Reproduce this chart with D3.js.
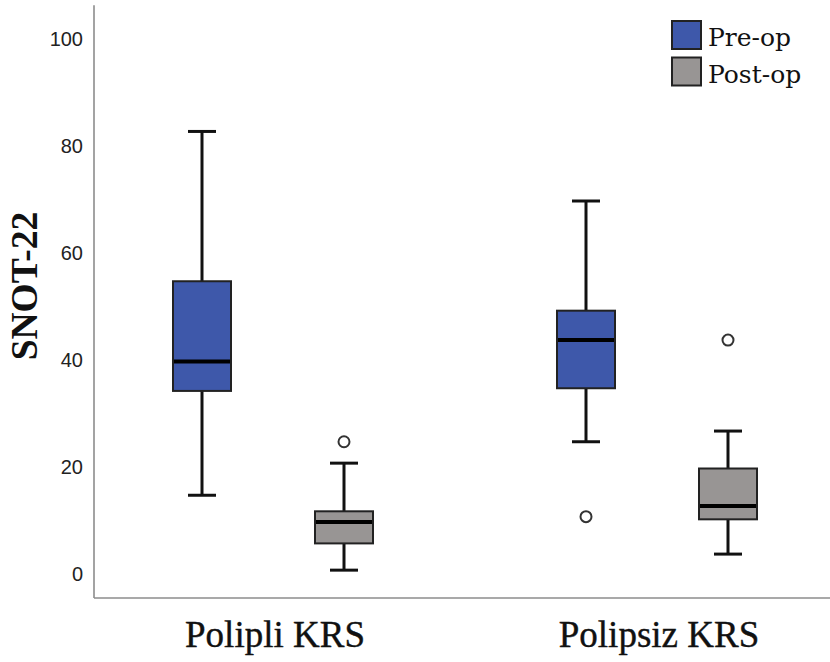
<!DOCTYPE html>
<html>
<head>
<meta charset="utf-8">
<script src="https://cdn.jsdelivr.net/npm/d3@7"></script>
<style>
  html, body { margin: 0; padding: 0; background: #fff; }
  svg { display: block; }
</style>
</head>
<body>
<svg id="chart" width="830" height="662"></svg>
<script>
// SNOT-22 scores before and after surgery, by KRS group
const categories = ["Polipli KRS", "Polipsiz KRS"];
const series = ["Pre-op", "Post-op"];

const preMin    = [15, 25];
const preQ1     = [34.5, 35];
const preMedian = [40, 44];
const preQ3     = [55, 49.5];
const preMax    = [83, 70];
const preOutliers = [[], [11]];

const postMin    = [1, 4];
const postQ1     = [6, 10.5];
const postMedian = [10, 13];
const postQ3     = [12, 20];
const postMax    = [21, 27];
const postOutliers = [[25], [44]];

const yTicks = [0, 20, 40, 60, 80, 100];
const yTitle = "SNOT-22";

const colors = { "Pre-op": "#3e58aa", "Post-op": "#989594" };

// assemble box records from the arrays above
const boxes = [];
categories.forEach((c, i) => {
  boxes.push({ cat: c, ser: "Pre-op", min: preMin[i], q1: preQ1[i], med: preMedian[i], q3: preQ3[i], max: preMax[i], out: preOutliers[i] });
  boxes.push({ cat: c, ser: "Post-op", min: postMin[i], q1: postQ1[i], med: postMedian[i], q3: postQ3[i], max: postMax[i], out: postOutliers[i] });
});

const svg = d3.select("#chart");

const y = d3.scaleLinear().domain([0, 100]).range([575.5, 40.5]);
const x0 = d3.scaleBand().domain(categories).range([81, 849]);
const x1 = d3.scalePoint().domain(series).range([-71, 71]);
const boxW = 58, capW = 28;
const cx = d => x0(d.cat) + x0.bandwidth() / 2 + x1(d.ser);

const axisLeft = 94, axisBottom = y(-4.2), axisTop = y(106.6);

// frame
svg.append("line").attr("x1", axisLeft).attr("x2", axisLeft)
  .attr("y1", axisTop).attr("y2", axisBottom)
  .attr("stroke", "#8c8c8c").attr("stroke-width", 1.6);
svg.append("line").attr("x1", axisLeft).attr("x2", 830)
  .attr("y1", axisBottom).attr("y2", axisBottom)
  .attr("stroke", "#8c8c8c").attr("stroke-width", 1.6);

// y tick labels
svg.append("g").selectAll("text").data(yTicks).join("text")
  .attr("x", 83).attr("y", d => y(d) - 2).attr("dy", "0.35em")
  .attr("text-anchor", "end")
  .attr("font-family", "'Liberation Sans', Arial, sans-serif")
  .attr("font-size", 20).attr("fill", "#222")
  .text(d => d);

// y title
svg.append("text")
  .attr("transform", "translate(37,286) rotate(-90)")
  .attr("text-anchor", "middle")
  .attr("font-family", "'Liberation Serif', 'Times New Roman', serif")
  .attr("font-weight", "bold").attr("font-size", 37.5).attr("fill", "#111")
  .text(yTitle);

// category labels
svg.append("g").selectAll("text").data(categories).join("text")
  .attr("x", d => x0(d) + x0.bandwidth() / 2 + 2)
  .attr("y", 647)
  .attr("text-anchor", "middle")
  .attr("font-family", "'Liberation Serif', 'Times New Roman', serif")
  .attr("font-size", 37).attr("fill", "#111")
  .attr("stroke", "#111").attr("stroke-width", 0.4)
  .text(d => d);

const g = svg.append("g").selectAll("g").data(boxes).join("g");

// whiskers
g.append("line").attr("x1", cx).attr("x2", cx)
  .attr("y1", d => y(d.max)).attr("y2", d => y(d.q3))
  .attr("stroke", "#111").attr("stroke-width", 3);
g.append("line").attr("x1", cx).attr("x2", cx)
  .attr("y1", d => y(d.q1)).attr("y2", d => y(d.min))
  .attr("stroke", "#111").attr("stroke-width", 3);
g.append("line").attr("x1", d => cx(d) - capW / 2).attr("x2", d => cx(d) + capW / 2)
  .attr("y1", d => y(d.max)).attr("y2", d => y(d.max))
  .attr("stroke", "#111").attr("stroke-width", 3);
g.append("line").attr("x1", d => cx(d) - capW / 2).attr("x2", d => cx(d) + capW / 2)
  .attr("y1", d => y(d.min)).attr("y2", d => y(d.min))
  .attr("stroke", "#111").attr("stroke-width", 3);

// boxes
g.append("rect")
  .attr("x", d => cx(d) - boxW / 2).attr("width", boxW)
  .attr("y", d => y(d.q3)).attr("height", d => y(d.q1) - y(d.q3))
  .attr("fill", d => colors[d.ser])
  .attr("stroke", "#222").attr("stroke-width", 2);

// medians
g.append("line").attr("x1", d => cx(d) - boxW / 2 + 1).attr("x2", d => cx(d) + boxW / 2 - 1)
  .attr("y1", d => y(d.med)).attr("y2", d => y(d.med))
  .attr("stroke", "#000").attr("stroke-width", 4);

// outliers
g.selectAll("circle").data(d => d.out.map(v => ({ v, d }))).join("circle")
  .attr("cx", o => cx(o.d)).attr("cy", o => y(o.v)).attr("r", 5.5)
  .attr("fill", "#fff").attr("stroke", "#333").attr("stroke-width", 2);

// legend
const leg = svg.append("g").selectAll("g").data(series).join("g")
  .attr("transform", (d, i) => `translate(672,${21 + i * 36.5})`);
leg.append("rect").attr("width", 29).attr("height", 28)
  .attr("fill", d => colors[d]).attr("stroke", "#222").attr("stroke-width", 2);
leg.append("text").attr("x", 36).attr("y", 25)
  .attr("font-family", "'DejaVu Serif', serif")
  .attr("font-size", 25).attr("fill", "#111")
  .text(d => d);
</script>
</body>
</html>
